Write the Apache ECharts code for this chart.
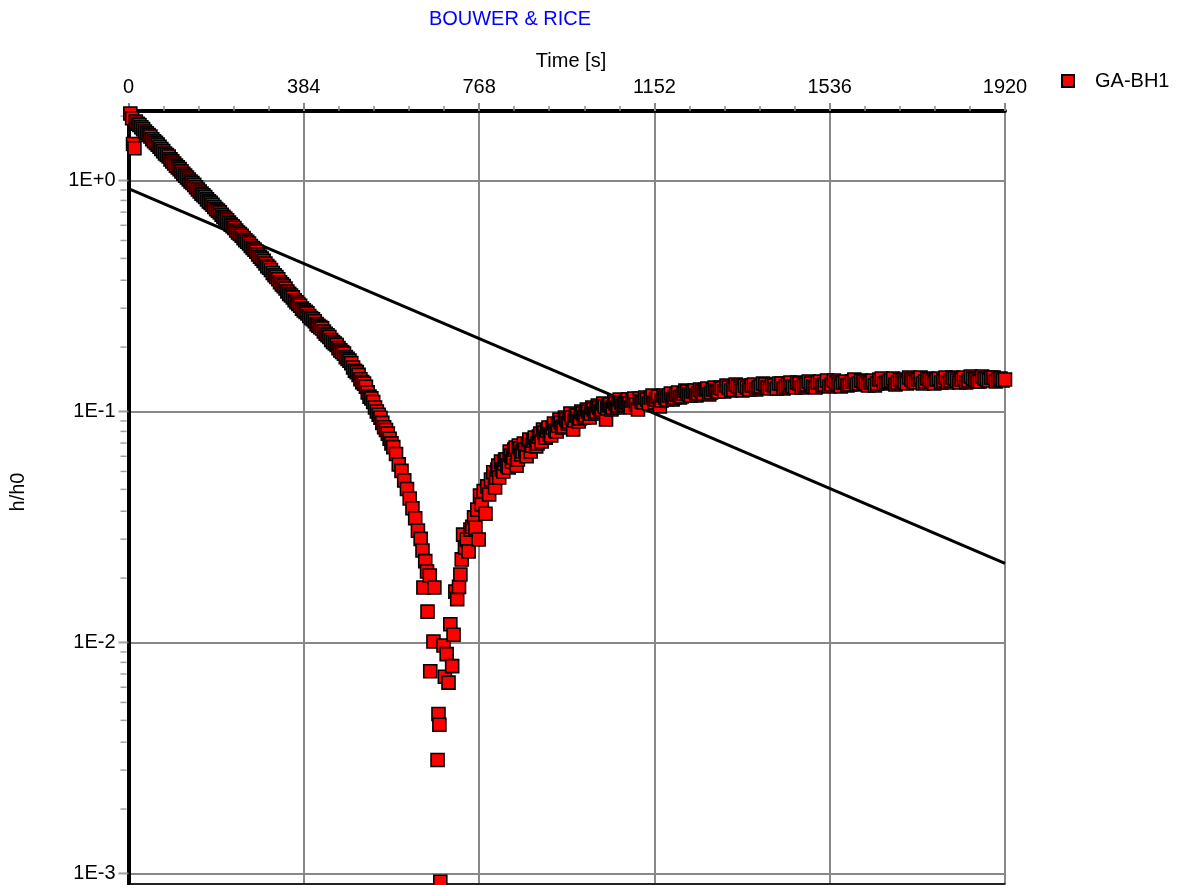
<!DOCTYPE html>
<html>
<head>
<meta charset="utf-8">
<script src="https://cdn.jsdelivr.net/npm/echarts@6/dist/echarts.min.js"></script>
<style>html,body{margin:0;padding:0;background:#fff}#c{width:1189px;height:885px}</style>
</head>
<body>
<div id="c"></div>
<script>
// ---- data (time in s, h/h0) ----
const descentTime = [
  4,8,10,13,16,20,24,28,32,36,40,44,48,52,56,60,64,68,72,76,80,84,88,92,96,100,104,108,112,116,120,124,128,132,136,140,
  144,148,152,156,160,164,168,172,176,180,184,188,192,196,200,204,208,212,216,220,224,228,232,236,240,244,248,252,256,260,
  264,268,272,276,280,284,288,292,296,300,304,308,312,316,320,324,328,332,336,340,344,348,352,356,360,364,368,372,376,380,
  384,388,392,396,400,404,408,412,416,420,424,428,432,436,440,444,448,452,456,460,464,468,472,476,480,484,488,492,496,500,
  504,508,512,516,520,524,528,532,536,540,544,548,552,556,560,564,568,572,576,580,586,592,598,604,610,616,622,628,634,640,644
];
const descentValue = [
  1.95,1.86,1.44,1.38,1.80,1.76,1.74,1.70,1.67,1.63,1.60,1.575,1.55,1.51,1.48,1.455,1.43,1.40,1.37,1.34,1.31,1.29,1.27,1.235,1.21,1.185,1.16,1.14,1.12,1.095,1.07,1.05,1.03,1.01,0.99,0.975,
  0.958,0.935,0.915,0.897,0.878,0.864,0.849,0.829,0.812,0.800,0.786,0.768,0.752,0.741,0.728,0.711,0.696,0.685,0.673,0.657,0.644,0.634,0.623,0.608,0.596,0.587,0.577,0.563,0.551,0.543,
  0.534,0.521,0.510,0.502,0.492,0.479,0.468,0.459,0.449,0.437,0.426,0.419,0.410,0.398,0.389,0.382,0.374,0.363,0.355,0.349,0.341,0.331,0.323,0.318,0.312,0.303,0.297,0.292,0.287,0.279,
  0.274,0.270,0.266,0.259,0.254,0.251,0.246,0.239,0.235,0.232,0.229,0.222,0.217,0.214,0.210,0.204,0.200,0.197,0.194,0.188,0.184,0.181,0.178,0.172,0.169,0.166,0.162,0.155,0.150,0.148,
  0.144,0.138,0.134,0.132,0.128,0.121,0.116,0.114,0.110,0.104,0.100,0.0968,0.0940,0.0893,0.0855,0.0832,0.0802,0.0762,0.0728,0.0701,0.0655,0.0590,0.0553,0.0503,0.0462,0.0420,0.0381,0.0345,0.0305,0.0281,0.0250
];
const minimumTime = [646,650,654,655,660,661,668,670,677,679,681,683];
const minimumValue = [0.0173,0.0225,0.0203,0.0136,0.0195,0.0075,0.0101,0.0173,0.0031,0.0049,0.0044,0.00092];
const recoveryTime = [
  690,693,697,701,705,709,712,716,720,724,727,730,733,737,741,745,749,753,757,760,764,767,770,774,778,782,
  786,790,794,799,803,805,808,810,812,816,818,821,823,825,828,830,833,835,838,840,843,845,848,850,853,855,858,860,863,866,869,872,875,878,881,884,887,890,893,896,899,902,905,908,911,914,
  917,920,923,926,929,932,935,938,941,944,947,950,953,956,959,962,965,968,971,974,977,980,983,986,989,992,995,998,1001,1004,1007,1010,1013,1016,1019,1022,1025,1028,1031,1034,1037,1040,1043,1046,1049,1052,
  1055,1058,1061,1064,1067,1070,1073,1076,1079,1082,1085,1088,1091,1094,1097,1100
];
const recoveryValue = [
  0.0097,0.0071,0.0089,0.0067,0.0120,0.0079,0.0108,0.0166,0.0154,0.0174,0.0197,0.0229,0.0293,0.0258,0.0279,0.0248,0.0308,0.0317,0.0348,0.0314,0.0376,0.0279,0.0433,0.0396,0.0452,0.0361,
  0.0474,0.0437,0.0508,0.0546,0.0469,0.0518,0.0561,0.0583,0.0518,0.0607,0.0561,0.0550,0.0596,0.0620,0.0620,0.0583,0.0572,0.0671,0.0645,0.0607,0.0632,0.0685,0.0698,0.0583,0.0620,0.0713,0.0691,0.0651,0.0671,0.0727,0.0685,0.0640,0.0720,0.0756,0.0671,0.0713,0.0748,0.0771,0.0706,0.0727,0.0779,0.0803,0.0741,0.0836,0.0811,0.0771,
  0.0827,0.0853,0.0795,0.0787,0.0853,0.0887,0.0827,0.0819,0.0870,0.0923,0.0896,0.0853,0.0861,0.0942,0.0923,0.0887,0.0905,0.0980,0.0942,0.0836,0.0914,0.0961,0.0961,0.0905,0.0932,0.1000,0.0980,0.0942,0.0961,0.1020,0.1000,0.0942,0.0980,0.1041,0.1020,0.0980,0.1000,0.1062,0.1041,0.1000,0.1020,0.1083,0.1052,0.0923,0.1031,0.1062,
  0.1072,0.1020,0.1041,0.1105,0.1083,0.1041,0.1062,0.1127,0.1094,0.1062,0.1072,0.1094,0.1105,0.1127,0.1083,0.1041
];
const plateauTime = [
  1104,1108,1112,1116,1120,1124,1128,1132,1136,1140,1144,1148,1152,1156,1160,1164,1168,1172,1176,1180,1184,1188,1192,1196,1200,
  1204,1208,1212,1216,1220,1224,1228,1232,1236,1240,1244,1248,1252,1256,1260,1264,1268,1272,1276,1280,1284,1288,1292,1296,1300,
  1305,1310,1315,1320,1325,1330,1335,1340,1345,1350,1355,1360,1365,1370,1375,1380,1385,1390,1395,1400,1405,1410,1415,1420,1425,
  1430,1435,1440,1445,1450,1455,1460,1465,1470,1475,1480,1485,1490,1495,1500,1505,1510,1515,1520,1525,1530,1535,1540,1545,1550,
  1555,1560,1565,1570,1575,1580,1585,1590,1595,1600,1605,1610,1615,1620,1625,1630,1635,1640,1645,1650,1655,1660,1665,1670,1675,
  1680,1685,1690,1695,1700,1705,1710,1715,1720,1725,1730,1735,1740,1745,1750,1755,1760,1765,1770,1775,1780,1785,1790,1795,1800,
  1805,1810,1815,1820,1825,1830,1835,1840,1845,1850,1855,1860,1865,1870,1875,1880,1885,1890,1895,1900,1905,1910,1915,1920
];
const plateauValue = [
  0.1116,0.1138,0.1072,0.1020,0.1138,0.1105,0.1094,0.1150,0.1127,0.1083,0.1150,0.1173,0.1094,0.1127,0.1162,0.1052,0.1116,0.1173,0.1150,0.1127,0.1173,0.1197,0.1127,0.1150,0.1185,
  0.1209,0.1150,0.1162,0.1197,0.1233,0.1221,0.1185,0.1173,0.1221,0.1233,0.1173,0.1197,0.1245,0.1221,0.1197,0.1245,0.1258,0.1185,0.1209,0.1245,0.1270,0.1233,0.1221,0.1270,0.1258,
  0.1221,0.1296,0.1270,0.1233,0.1245,0.1309,0.1283,0.1258,0.1233,0.1296,0.1270,0.1245,0.1296,0.1309,0.1245,0.1270,0.1283,0.1322,0.1309,0.1270,0.1258,0.1309,0.1296,0.1258,0.1322,
  0.1322,0.1258,0.1283,0.1309,0.1335,0.1283,0.1270,0.1335,0.1322,0.1270,0.1296,0.1309,0.1349,0.1322,0.1283,0.1270,0.1335,0.1349,0.1296,0.1309,0.1362,0.1283,0.1309,0.1362,0.1335,
  0.1309,0.1283,0.1335,0.1349,0.1296,0.1309,0.1349,0.1376,0.1309,0.1322,0.1362,0.1349,0.1322,0.1296,0.1335,0.1362,0.1296,0.1322,0.1376,0.1390,0.1322,0.1335,0.1349,0.1362,0.1390,
  0.1309,0.1335,0.1376,0.1362,0.1335,0.1322,0.1404,0.1376,0.1349,0.1335,0.1376,0.1404,0.1322,0.1349,0.1390,0.1376,0.1349,0.1322,0.1376,0.1390,0.1335,0.1362,0.1404,0.1335,0.1362,
  0.1404,0.1390,0.1362,0.1335,0.1376,0.1404,0.1335,0.1362,0.1418,0.1390,0.1376,0.1349,0.1349,0.1418,0.1390,0.1376,0.1362,0.1404,0.1404,0.1349,0.1376,0.1390,0.1362,0.1376
];
const fitTime = [0, 1920];
const fitValue = [0.923, 0.022];
const yDecades = [0.001, 0.01, 0.1, 1];
const yMinorFactors = [1.9, 2.8, 3.7, 4.6, 5.5, 6.4, 7.3, 8.2, 9.1];
const seriesName = 'GA-BH1';
const chartTitle = 'BOUWER & RICE';
const xName = 'Time [s]';
const yName = 'h/h0';

// ---- build ----
const FONT = "'Liberation Sans', Arial, sans-serif";
const Y_MIN = 0.0009, Y_MAX = 2;
const pairs = (ts, vs) => ts.map((t, i) => [t, vs[i]]);
const points = [].concat(
  pairs(descentTime, descentValue),
  pairs(minimumTime, minimumValue),
  pairs(recoveryTime, recoveryValue),
  pairs(plateauTime, plateauValue)
);
const fitLine = pairs(fitTime, fitValue);
const minorVals = [];
yDecades.forEach(d => yMinorFactors.forEach(f => { const v = d * f; if (v < Y_MAX) minorVals.push(v); }));

const chart = echarts.init(document.getElementById('c'), null, { renderer: 'canvas' });
chart.setOption({
  animation: false,
  backgroundColor: '#fff',
  textStyle: { fontFamily: FONT },
  title: [
    { text: chartTitle, left: 505, top: 4, textAlign: 'center',
      textStyle: { color: '#0000ff', fontSize: 20, fontWeight: 'normal', fontFamily: FONT } },
    { text: xName, left: 566, top: 46, textAlign: 'center',
      textStyle: { color: '#000', fontSize: 20, fontWeight: 'normal', fontFamily: FONT } }
  ],
  legend: {
    data: [seriesName], left: 1061, top: 71, icon: 'rect', itemWidth: 12, itemHeight: 12,
    padding: 0, textStyle: { fontSize: 20, color: '#000', fontFamily: FONT, padding: [0, 0, 0, 16] }
  },
  graphic: [{
    type: 'text', x: 18, y: 492, rotation: Math.PI / 2,
    style: { text: yName, fontSize: 20, fontFamily: FONT, fill: '#000', align: 'center', verticalAlign: 'middle' }
  }],
  grid: { left: 128.5, right: 184, top: 111, bottom: 1, containLabel: false },
  xAxis: [{
    type: 'value', position: 'top', min: 0, max: 1920, interval: 384,
    axisLine: { onZero: false, lineStyle: { color: '#000', width: 4 } },
    axisTick: { length: 8, lineStyle: { color: '#888', width: 2 } },
    minorTick: { show: true, splitNumber: 5, length: 5, lineStyle: { color: '#888', width: 1.5 } },
    splitLine: { show: true, lineStyle: { color: '#888', width: 2 } },
    axisLabel: { fontSize: 20, color: '#000', margin: 14, fontFamily: FONT, formatter: v => String(v) }
  }, {
    type: 'value', position: 'bottom', min: 0, max: 1920,
    axisLine: { show: true, onZero: false, lineStyle: { color: '#000', width: 1.5 } },
    axisTick: { show: false }, axisLabel: { show: false }, splitLine: { show: false }
  }],
  yAxis: {
    type: 'log', logBase: 10, min: Y_MIN, max: Y_MAX,
    axisLine: { show: true, onZero: false, lineStyle: { color: '#000', width: 4 } },
    axisTick: { show: false },
    splitLine: { show: true, lineStyle: { color: '#888', width: 2 } },
    axisLabel: {
      fontSize: 20, color: '#000', margin: 13, fontFamily: FONT,
      formatter: v => {
        const e = Math.log10(v), r = Math.round(e);
        if (Math.abs(e - r) > 1e-6) return '';
        return '1E' + (r >= 0 ? '+' + r : String(r));
      }
    }
  },
  series: [
    { name: 'fit', type: 'line', data: fitLine, showSymbol: false, symbol: 'none', silent: true,
      lineStyle: { color: '#000', width: 3 }, z: 2 },
    { name: seriesName, type: 'scatter', data: points, symbol: 'rect', symbolSize: 13,
      itemStyle: { color: '#ff0000', borderColor: '#000', borderWidth: 1.6, opacity: 1 }, z: 3 },
    { name: 'ymajor', type: 'scatter', data: yDecades.map(v => [0, v]), symbol: 'rect',
      symbolSize: [10, 2], symbolOffset: [-5, 0], clip: false, silent: true,
      itemStyle: { color: '#888' }, z: 1 },
    { name: 'yminor', type: 'scatter', data: minorVals.map(v => [0, v]), symbol: 'rect',
      symbolSize: [6, 1.5], symbolOffset: [-5, 0], clip: false, silent: true,
      itemStyle: { color: '#888' }, z: 1 }
  ]
});
</script>
</body>
</html>
